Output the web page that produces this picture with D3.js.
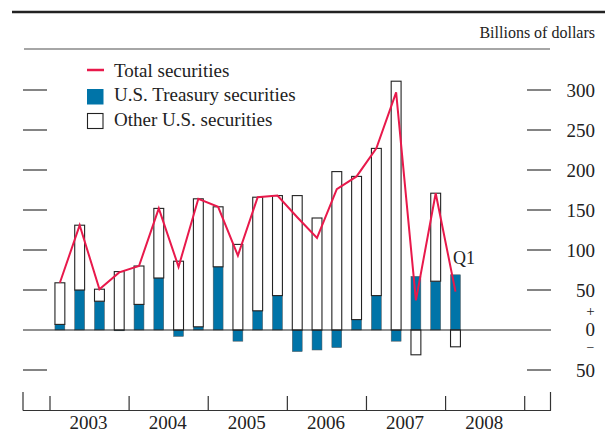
<!DOCTYPE html>
<html>
<head>
<meta charset="utf-8">
<script src="https://cdn.jsdelivr.net/npm/d3@7"></script>
<style>
  html, body { margin: 0; padding: 0; background: #fff; }
  svg { display: block; font-family: "Liberation Serif", "Times New Roman", serif; }
</style>
</head>
<body>
<svg id="chart" width="605" height="433"></svg>
<script>
// quarterly data, 2003 Q1 .. 2008 Q1 (billions of dollars)
const quarters = [
  "2003Q1", "2003Q2", "2003Q3", "2003Q4",
  "2004Q1", "2004Q2", "2004Q3", "2004Q4",
  "2005Q1", "2005Q2", "2005Q3", "2005Q4",
  "2006Q1", "2006Q2", "2006Q3", "2006Q4",
  "2007Q1", "2007Q2", "2007Q3", "2007Q4",
  "2008Q1"
];
const treasury = [7, 50, 36, -1, 32, 65, -8, 4, 79, -14, 24, 43, -27, -25, -22, 13, 43, -14, 67, 61, 69];
const other = [52, 81, 15, 73, 48, 87, 86, 160, 75, 107, 142, 125, 168, 140, 198, 179, 184, 311, -31, 110, -21];
const total = [59, 131, 51, 72, 80, 152, 79, 164, 154, 93, 166, 168, 141, 115, 176, 192, 227, 297, 37, 171, 48];

const years = ["2003", "2004", "2005", "2006", "2007", "2008"];
const yTicks = [300, 250, 200, 150, 100, 50, -50];
const yTickLabels = ["300", "250", "200", "150", "100", "50", "50"];

const colors = {
  treasury: "#0074a8",
  total: "#e8194b",
  ink: "#222",
  gray: "#888"
};

const svg = d3.select("#chart");

// all quarters of the year span, data fills only the first 21
const allQuarters = years.flatMap(y => ["Q1", "Q2", "Q3", "Q4"].map(q => y + q));

const x = d3.scaleBand()
  .domain(allQuarters)
  .range([50, 524.7])
  .paddingInner(0.5)
  .paddingOuter(0.25);

const xYear = d3.scaleBand()
  .domain(years)
  .range([50, 524.7]);

const y = d3.scaleLinear()
  .domain([-50, 300])
  .range([370, 90]);

// header rules
svg.append("line")
  .attr("x1", 12).attr("x2", 605)
  .attr("y1", 12).attr("y2", 12)
  .attr("stroke", "#222").attr("stroke-width", 2.6);

svg.append("line")
  .attr("x1", 24).attr("x2", 550)
  .attr("y1", 49).attr("y2", 49)
  .attr("stroke", colors.gray).attr("stroke-width", 1.4);

svg.append("text")
  .attr("x", 595).attr("y", 37.5)
  .attr("text-anchor", "end")
  .attr("font-size", 16)
  .attr("fill", colors.ink)
  .text("Billions of dollars");

// y ticks on both sides
const tickG = svg.append("g")
  .attr("stroke", "#333").attr("stroke-width", 1.2);
yTicks.forEach(v => {
  tickG.append("line").attr("x1", 23).attr("x2", 47).attr("y1", y(v)).attr("y2", y(v));
  tickG.append("line").attr("x1", 527).attr("x2", 551).attr("y1", y(v)).attr("y2", y(v));
});

svg.append("g")
  .selectAll("text")
  .data(yTicks)
  .join("text")
  .attr("x", 595)
  .attr("y", d => y(d) + 6.5)
  .attr("text-anchor", "end")
  .attr("font-size", 19)
  .attr("fill", colors.ink)
  .text((d, i) => yTickLabels[i]);

// zero label with +/- signs
svg.append("text")
  .attr("x", 595).attr("y", y(0) + 6)
  .attr("text-anchor", "end")
  .attr("font-size", 19)
  .attr("fill", colors.ink)
  .text("0");
svg.append("text")
  .attr("x", 590.5).attr("y", y(0) - 14)
  .attr("text-anchor", "middle")
  .attr("font-size", 15)
  .attr("fill", colors.ink)
  .text("+");
svg.append("text")
  .attr("x", 590.5).attr("y", y(0) + 22)
  .attr("text-anchor", "middle")
  .attr("font-size", 14)
  .attr("fill", colors.ink)
  .text("\u2212");

// stacked bars (positives up, negatives down)
const rows = quarters.map((q, i) => ({ q, treasury: treasury[i], other: other[i] }));
const stacked = d3.stack()
  .keys(["treasury", "other"])
  .offset(d3.stackOffsetDiverging)(rows);

svg.append("g")
  .selectAll("rect")
  .data(stacked[0])
  .join("rect")
  .attr("x", d => x(d.data.q))
  .attr("width", x.bandwidth())
  .attr("y", d => y(Math.max(d[0], d[1])))
  .attr("height", d => Math.abs(y(d[0]) - y(d[1])))
  .attr("fill", colors.treasury)
  .attr("stroke", "#555")
  .attr("stroke-width", 0.5);

svg.append("g")
  .selectAll("rect")
  .data(stacked[1])
  .join("rect")
  .attr("x", d => x(d.data.q))
  .attr("width", x.bandwidth())
  .attr("y", d => y(Math.max(d[0], d[1])))
  .attr("height", d => Math.abs(y(d[0]) - y(d[1])))
  .attr("fill", "#fff")
  .attr("stroke", colors.ink)
  .attr("stroke-width", 1.1);

// zero line
svg.append("line")
  .attr("x1", 23).attr("x2", 551)
  .attr("y1", y(0)).attr("y2", y(0))
  .attr("stroke", "#222").attr("stroke-width", 1.2);

// total line
const line = d3.line()
  .x((d, i) => x(quarters[i]) + x.bandwidth() / 2)
  .y(d => y(d));

svg.append("path")
  .datum(total)
  .attr("fill", "none")
  .attr("stroke", colors.total)
  .attr("stroke-width", 2)
  .attr("stroke-linejoin", "miter")
  .attr("d", line);

// Q1 marker for the last bar
const lastQ = quarters[quarters.length - 1];
svg.append("text")
  .attr("x", x(lastQ) + 2.5)
  .attr("y", y(treasury[treasury.length - 1]) - 11)
  .attr("font-size", 18)
  .attr("fill", colors.ink)
  .text("Q1");

// bottom axis
const axisY = 410.5;
const axG = svg.append("g").attr("stroke", "#333").attr("stroke-width", 1.2);
axG.append("line").attr("x1", 23).attr("x2", 551).attr("y1", axisY).attr("y2", axisY);
axG.append("line").attr("x1", 23).attr("x2", 23).attr("y1", 392).attr("y2", axisY);
axG.append("line").attr("x1", 550.5).attr("x2", 550.5).attr("y1", 392).attr("y2", axisY);
years.concat(["2009"]).forEach((yr, i) => {
  const xx = i < years.length ? xYear(yr) : xYear.range()[1];
  axG.append("line").attr("x1", xx).attr("x2", xx).attr("y1", 396).attr("y2", axisY);
});

svg.append("g")
  .selectAll("text")
  .data(years)
  .join("text")
  .attr("x", d => xYear(d) + xYear.bandwidth() / 2 - 1)
  .attr("y", 429)
  .attr("text-anchor", "middle")
  .attr("font-size", 19)
  .attr("fill", colors.ink)
  .text(d => d);

// legend
const legend = svg.append("g");
legend.append("line")
  .attr("x1", 87).attr("x2", 104)
  .attr("y1", 70).attr("y2", 70)
  .attr("stroke", colors.total).attr("stroke-width", 2.5);
legend.append("rect")
  .attr("x", 87).attr("y", 89)
  .attr("width", 16.5).attr("height", 15.5)
  .attr("fill", colors.treasury);
legend.append("rect")
  .attr("x", 87.5).attr("y", 113.5)
  .attr("width", 15.5).attr("height", 15)
  .attr("fill", "#fff")
  .attr("stroke", colors.ink).attr("stroke-width", 1.1);

const legendLabels = ["Total securities", "U.S. Treasury securities", "Other U.S. securities"];
legend.selectAll("text")
  .data(legendLabels)
  .join("text")
  .attr("x", 114)
  .attr("y", (d, i) => 77 + i * 24.3)
  .attr("font-size", 19)
  .attr("fill", colors.ink)
  .text(d => d);
</script>
</body>
</html>
